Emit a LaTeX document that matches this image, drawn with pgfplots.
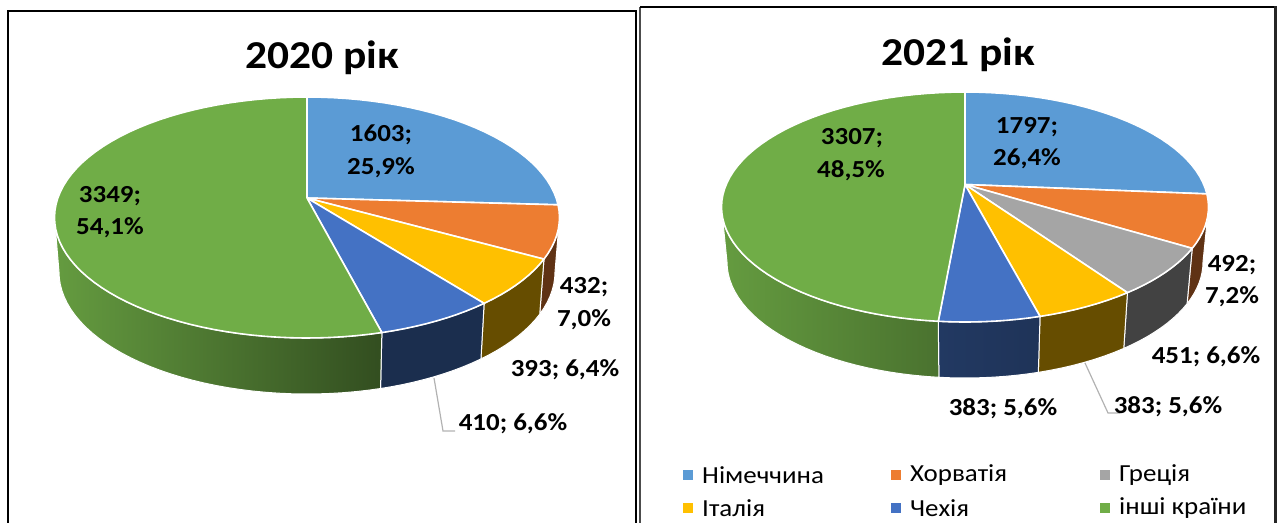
\documentclass[border=0pt]{standalone}
\usepackage{pgfplots}
\pgfplotsset{compat=1.18}
\usepackage{fontspec}
\setmainfont{Carlito}
\newfontfamily\labf[FakeStretch=1.1]{Carlito}
\definecolor{cblue}{HTML}{5B9BD5}
\definecolor{corange}{HTML}{ED7D31}
\definecolor{cgray}{HTML}{A5A5A5}
\definecolor{cyellow}{HTML}{FFC000}
\definecolor{cdblue}{HTML}{4472C4}
\definecolor{cgreen}{HTML}{70AD47}
\newcommand\lab{\labf\fontsize{24.5}{29}\selectfont\bfseries}
\newcommand\ttl{\labf\fontsize{39.5}{46}\selectfont\bfseries}
\newcommand\leg{\labf\fontsize{24.5}{29}\selectfont}
% pie geometry: centre, radii of the top rim, apex offset, centre and radii of the lower rim
\newcommand\setpie[8]{\def\pcx{#1}\def\pcy{#2}\def\prx{#3}\def\pry{#4}\def\pap{#5}\def\bcy{#6}\def\brx{#7}\def\bry{#8}}
% rim parameter for a share (cumulative value / total)
\newcommand\rimt[2]{%
  \pgfmathsetmacro\thetaval{360*(#1/#2)}%
  \pgfmathsetmacro\mydd{\pap*cos(\thetaval)}%
  \pgfmathsetmacro\myss{-\mydd+sqrt(\mydd*\mydd+1-\pap*\pap)}%
  \pgfmathsetmacro\pxx{\myss*sin(\thetaval)}%
  \pgfmathsetmacro\pyy{\pap+\myss*cos(\thetaval)}%
  \pgfmathsetmacro\tres{atan2(\pxx,\pyy)}%
  \pgfmathsetmacro\tres{\tres<0?\tres+360:\tres}%
  \pgfmathsetmacro\tres{#1>=#2?360:\tres}%
}
% append rim points from #1 to #2 on the rim with centre y #3, radii #4 #5
\newcommand\addrim[5]{%
  \pgfmathsetmacro\nn{max(1,ceil(abs(#2-#1)/3))}%
  \pgfmathtruncatemacro\nni{\nn}%
  \foreach \i in {0,...,\nni}{%
    \pgfmathsetmacro\myt{#1+(#2-#1)*\i/\nni}%
    \pgfmathsetmacro\ppx{\pcx+#4*sin(\myt)}%
    \pgfmathsetmacro\ppy{#3-#5*cos(\myt)}%
    \xdef\lst{\lst (\ppx,\ppy)}%
  }%
}
% top slice: from cumulative #1 to #2 of total #3, colour #4
\newcommand\topslice[4]{%
  \rimt{#1}{#3}\let\tA\tres
  \rimt{#2}{#3}\let\tB\tres
  \xdef\lst{(\pcx,\apexy)}%
  \addrim{\tA}{\tB}{\pcy}{\prx}{\pry}%
  \edef\doit{\noexpand\addplot[fill=#4,draw=white,line width=1.6pt,line join=round] coordinates {\lst} --cycle;}\doit
}
% side: the same slice, the part of it that faces the viewer; #4 left colour, #5 right colour
\newcommand\sideslice[5]{%
  \rimt{#1}{#3}\let\tA\tres
  \rimt{#2}{#3}\let\tB\tres
  \pgfmathsetmacro\tA{max(\tA,90)}%
  \pgfmathsetmacro\tB{min(\tB,270)}%
  \gdef\lst{}%
  \addrim{\tA}{\tB}{\pcy}{\prx}{\pry}%
  \addrim{\tB}{\tA}{\bcy}{\brx}{\bry}%
  \edef\doit{\noexpand\addplot[left color=#4,right color=#5,draw=white,line width=1pt] coordinates {\lst} --cycle;}\doit
}
\begin{document}
\begin{tikzpicture}
\useasboundingbox (0,0) rectangle (1279pt,522pt);
\begin{axis}[
  at={(0,0)}, anchor=south west,
  scale only axis, width=1279pt, height=522pt,
  xmin=0, xmax=1279, ymin=0, ymax=522, y dir=reverse,
  hide axis, clip=true,
]
% frames
\addplot[black,line width=2pt] coordinates {(8,530) (8,11) (636,11) (636,530)};
\addplot[black!70,line width=1.6pt] coordinates {(640,530) (640,7)};
\addplot[black,line width=1.8pt] coordinates {(640,7) (1275.5,7)};
\addplot[black!85,line width=2.6pt] coordinates {(1275.5,6) (1275.5,530)};
% --- 2020: 1603, 432, 393, 410, 3349; total 6187
\setpie{307}{217.5}{252.5}{120.5}{0.162}{272}{248}{122}
\def\apexy{198}
\sideslice{1603}{2035}{6187}{corange!40!black}{corange!40!black}
\sideslice{2035}{2428}{6187}{cyellow!40!black}{cyellow!40!black}
\sideslice{2428}{2838}{6187}{cdblue!40!black}{cdblue!40!black}
\sideslice{2838}{6187}{6187}{cgreen!90!black}{cgreen!45!black}
\topslice{0}{1603}{6187}{cblue}
\topslice{1603}{2035}{6187}{corange}
\topslice{2035}{2428}{6187}{cyellow}
\topslice{2428}{2838}{6187}{cdblue}
\topslice{2838}{6187}{6187}{cgreen}
\addplot[gray!60,line width=1.2pt] coordinates {(434,378) (443,431) (455,431)};
% --- 2021: 1797, 492, 451, 383, 383, 3307; total 6813
\setpie{965}{207}{243.5}{115}{0.2}{262}{238}{116}
\def\apexy{184.5}
\sideslice{1797}{2289}{6813}{corange!40!black}{corange!40!black}
\sideslice{2289}{2740}{6813}{cgray!40!black}{cgray!40!black}
\sideslice{2740}{3123}{6813}{cyellow!40!black}{cyellow!40!black}
\sideslice{3123}{3506}{6813}{cdblue!50!black}{cdblue!45!black}
\sideslice{3506}{6813}{6813}{cgreen!90!black}{cgreen!66!black}
\topslice{0}{1797}{6813}{cblue}
\topslice{1797}{2289}{6813}{corange}
\topslice{2289}{2740}{6813}{cgray}
\topslice{2740}{3123}{6813}{cyellow}
\topslice{3123}{3506}{6813}{cdblue}
\topslice{3506}{6813}{6813}{cgreen}
\addplot[gray!60,line width=1.2pt] coordinates {(1085,363) (1108,413) (1120,413)};
% legend markers
\addplot[only marks,mark=square*,mark size=4.5pt,cblue] coordinates {(688,475)};
\addplot[only marks,mark=square*,mark size=4.5pt,corange] coordinates {(896,475)};
\addplot[only marks,mark=square*,mark size=4.5pt,cgray] coordinates {(1105,475)};
\addplot[only marks,mark=square*,mark size=4.5pt,cyellow] coordinates {(688,508)};
\addplot[only marks,mark=square*,mark size=4.5pt,cdblue] coordinates {(896,508)};
\addplot[only marks,mark=square*,mark size=4.5pt,cgreen] coordinates {(1105,508)};
% texts
\node[font=\ttl] at (322,58) {2020 рік};
\node[font=\ttl] at (958,55) {2021 рік};
\node[font=\lab] at (381,135) {1603;};
\node[font=\lab] at (381,168) {25,9\%};
\node[font=\lab] at (110,196) {3349;};
\node[font=\lab] at (110,228) {54,1\%};
\node[font=\lab] at (584,287) {432;};
\node[font=\lab] at (584,320) {7,0\%};
\node[font=\lab] at (565,370) {393; 6,4\%};
\node[font=\lab] at (513,424) {410; 6,6\%};
\node[font=\lab] at (1027,127) {1797;};
\node[font=\lab] at (1027,159) {26,4\%};
\node[font=\lab] at (852,138) {3307;};
\node[font=\lab] at (851,171) {48,5\%};
\node[font=\lab] at (1232,265) {492;};
\node[font=\lab] at (1232,297) {7,2\%};
\node[font=\lab] at (1206,357) {451; 6,6\%};
\node[font=\lab] at (1168,407) {383; 5,6\%};
\node[font=\lab] at (1003,409) {383; 5,6\%};
\node[font=\leg,anchor=west,inner sep=0pt] at (702,475) {Німеччина};
\node[font=\leg,anchor=west,inner sep=0pt] at (910,475) {Хорватія};
\node[font=\leg,anchor=west,inner sep=0pt] at (1119,475) {Греція};
\node[font=\leg,anchor=west,inner sep=0pt] at (702,508) {Італія};
\node[font=\leg,anchor=west,inner sep=0pt] at (910,508) {Чехія};
\node[font=\leg,anchor=west,inner sep=0pt] at (1119,508) {інші країни};
\end{axis}
\end{tikzpicture}
\end{document}
